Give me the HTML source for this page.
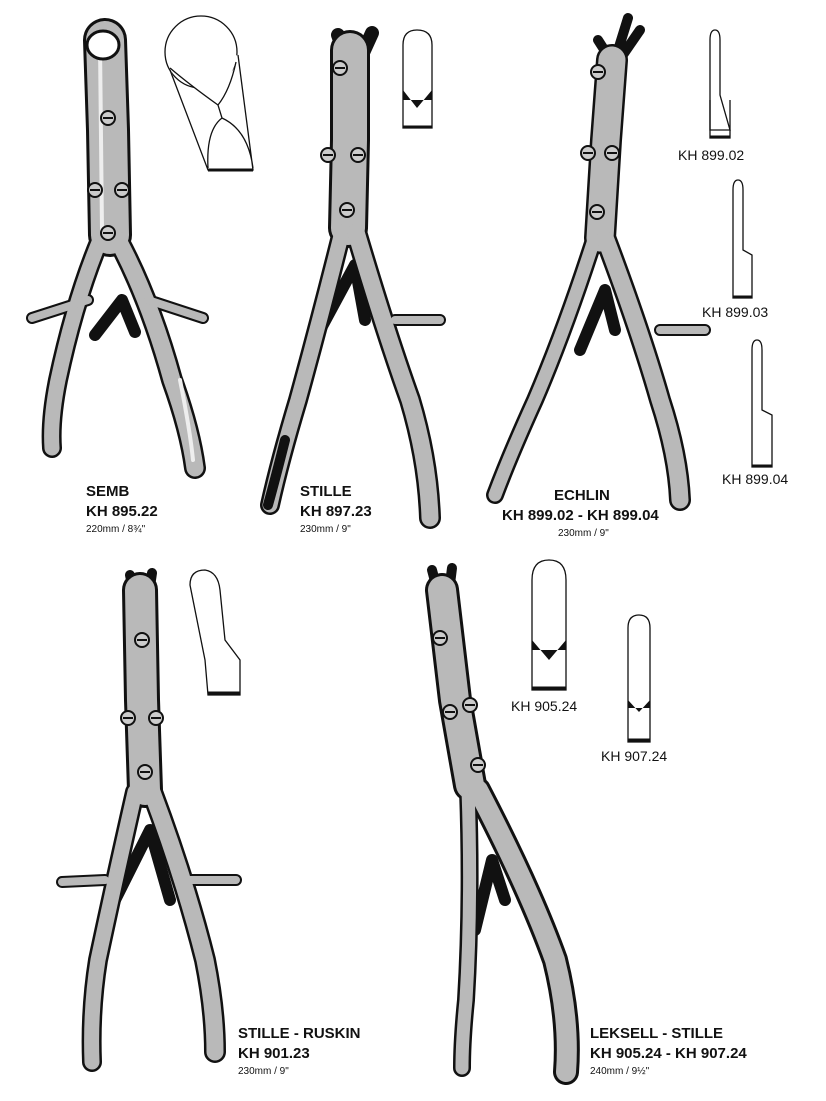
<!DOCTYPE html>
<html><head><meta charset="utf-8"><style>
html,body{margin:0;padding:0;background:#fff;width:826px;height:1101px;overflow:hidden}
svg{display:block}
text{font-family:"Liberation Sans",Arial,sans-serif;fill:#111}
.b{font-weight:bold;font-size:15px}
.s{font-size:10px}
.k{font-size:14px}
.o{fill:none;stroke:#111;stroke-linecap:round;stroke-linejoin:round}
.g{fill:none;stroke:#b9b9b9;stroke-linecap:round;stroke-linejoin:round}
.l{fill:none;stroke:#eee;stroke-linecap:round;stroke-linejoin:round}
.t{fill:#fff;stroke:#111;stroke-width:1.3}
</style></head><body>
<svg width="826" height="1101" viewBox="0 0 826 1101" xmlns="http://www.w3.org/2000/svg">
<defs>
<g id="screw"><circle r="7" fill="#ccc" stroke="#111" stroke-width="2"/><line x1="-5" y1="0" x2="5" y2="0" stroke="#111" stroke-width="2"/></g>
</defs>

<!-- SEMB -->
<g>
<path class="o" stroke-width="44" d="M105 40 L108 130 L110 235"/>
<path class="o" stroke-width="20" d="M100 240 Q75 300 58 380 Q50 420 52 448"/>
<path class="o" stroke-width="22" d="M118 240 Q150 300 172 380 Q190 430 195 468"/>
<path class="o" stroke-width="12" d="M88 300 L32 318 M148 300 L203 318 M95 335 L122 300 L135 332"/>
<path class="g" stroke-width="38" d="M105 40 L108 130 L110 235"/>
<path class="g" stroke-width="15" d="M100 240 Q75 300 58 380 Q50 420 52 448"/>
<path class="g" stroke-width="17" d="M118 240 Q150 300 172 380 Q190 430 195 468"/>
<path class="g" stroke-width="8" d="M88 300 L32 318 M148 300 L203 318"/>
<path class="l" stroke-width="4" d="M100 45 L102 230 M180 380 Q190 430 193 460"/>
<ellipse cx="103" cy="45" rx="16" ry="14" fill="#fff" stroke="#111" stroke-width="3"/>
<use href="#screw" x="108" y="118"/><use href="#screw" x="95" y="190"/><use href="#screw" x="122" y="190"/><use href="#screw" x="108" y="233"/>
</g>
<circle cx="201" cy="52" r="36" class="t" fill="none"/>
<path class="t" fill="none" d="M170 70 L208 170 L253 170 L238 55 M170 68 Q190 85 218 105 L222 118 Q206 130 208 168 M236 62 Q230 90 218 105 M222 118 Q248 130 253 168"/>
<line x1="208" y1="170" x2="253" y2="170" stroke="#111" stroke-width="3"/>

<!-- STILLE -->
<g>
<path class="o" stroke-width="40" d="M350 50 L350 140 L348 228"/>
<path class="o" stroke-width="14" d="M338 35 L345 55 M372 33 L362 55"/>
<path class="o" stroke-width="20" d="M342 232 Q320 320 298 400 Q280 460 270 505"/>
<path class="o" stroke-width="22" d="M356 232 Q385 330 410 400 Q428 460 430 518"/>
<path class="o" stroke-width="12" d="M395 320 L440 320 M320 330 L355 265 L365 320"/>
<path class="g" stroke-width="34" d="M350 50 L350 140 L348 228"/>
<path class="g" stroke-width="15" d="M342 232 Q320 320 298 400 Q280 460 270 505"/>
<path class="g" stroke-width="17" d="M356 232 Q385 330 410 400 Q428 460 430 518"/>
<path class="g" stroke-width="8" d="M395 320 L440 320"/>
<path class="o" stroke-width="10" d="M285 440 Q275 480 268 505"/>
<use href="#screw" x="340" y="68"/><use href="#screw" x="328" y="155"/><use href="#screw" x="358" y="155"/><use href="#screw" x="347" y="210"/>
</g>
<path class="t" d="M403 45 Q403 30 417 30 Q432 30 432 45 L432 128 L403 128 Z"/>
<path d="M403 90 L417 108 L432 90 L432 100 L403 100 Z" fill="#111"/>
<line x1="403" y1="127" x2="432" y2="127" stroke="#111" stroke-width="3"/>

<!-- ECHLIN -->
<g>
<path class="o" stroke-width="32" d="M612 60 L606 140 L600 238"/>
<path class="o" stroke-width="10" d="M598 40 L612 62 M628 18 L615 60 M640 30 L618 62"/>
<path class="o" stroke-width="18" d="M594 240 Q565 330 535 400 Q510 455 495 495"/>
<path class="o" stroke-width="22" d="M606 240 Q640 330 660 400 Q678 455 680 500"/>
<path class="o" stroke-width="12" d="M660 330 L705 330 M580 350 L605 290 L615 330"/>
<path class="g" stroke-width="27" d="M612 60 L606 140 L600 238"/>
<path class="g" stroke-width="13" d="M594 240 Q565 330 535 400 Q510 455 495 495"/>
<path class="g" stroke-width="17" d="M606 240 Q640 330 660 400 Q678 455 680 500"/>
<path class="g" stroke-width="8" d="M660 330 L705 330"/>
<use href="#screw" x="598" y="72"/><use href="#screw" x="588" y="153"/><use href="#screw" x="612" y="153"/><use href="#screw" x="597" y="212"/>
</g>
<g class="t">
<path d="M710 40 Q710 30 715 30 Q720 30 720 40 L720 95 L730 130 L710 130 Z"/>
<path d="M710 100 L710 138 L730 138 L730 100" fill="none"/>
<path d="M733 190 Q733 180 738 180 Q743 180 743 190 L743 250 L752 255 L752 298 L733 298 Z"/>
<path d="M752 350 Q752 340 757 340 Q762 340 762 350 L762 410 L772 415 L772 467 L752 467 Z"/>
</g>
<line x1="710" y1="137" x2="730" y2="137" stroke="#111" stroke-width="3"/>
<line x1="733" y1="297" x2="752" y2="297" stroke="#111" stroke-width="3"/>
<line x1="752" y1="466" x2="772" y2="466" stroke="#111" stroke-width="3"/>
<text class="k" x="678" y="160">KH 899.02</text>
<text class="k" x="702" y="317">KH 899.03</text>
<text class="k" x="722" y="484">KH 899.04</text>

<!-- STILLE-RUSKIN -->
<g>
<path class="o" stroke-width="36" d="M140 590 L142 700 L145 790"/>
<path class="o" stroke-width="10" d="M130 575 L135 600 M152 573 L148 600"/>
<path class="o" stroke-width="20" d="M135 792 Q115 880 98 960 Q90 1010 92 1062"/>
<path class="o" stroke-width="22" d="M152 792 Q185 880 205 960 Q215 1010 215 1052"/>
<path class="o" stroke-width="12" d="M105 880 L62 882 M190 880 L236 880 M115 900 L150 830 L170 900"/>
<path class="g" stroke-width="30" d="M140 590 L142 700 L145 790"/>
<path class="g" stroke-width="15" d="M135 792 Q115 880 98 960 Q90 1010 92 1062"/>
<path class="g" stroke-width="17" d="M152 792 Q185 880 205 960 Q215 1010 215 1052"/>
<path class="g" stroke-width="8" d="M105 880 L62 882 M190 880 L236 880"/>
<use href="#screw" x="142" y="640"/><use href="#screw" x="128" y="718"/><use href="#screw" x="156" y="718"/><use href="#screw" x="145" y="772"/>
</g>
<path class="t" d="M190 585 Q190 570 205 570 Q218 572 220 590 L225 640 L240 660 L240 695 L208 695 L205 660 Z"/>
<line x1="208" y1="693" x2="240" y2="693" stroke="#111" stroke-width="3"/>

<!-- LEKSELL -->
<g>
<path class="o" stroke-width="34" d="M442 590 L455 700 L470 785"/>
<path class="o" stroke-width="10" d="M432 570 L440 600 M452 568 L448 600"/>
<path class="o" stroke-width="18" d="M468 790 Q472 900 466 1000 Q462 1040 462 1068"/>
<path class="o" stroke-width="26" d="M478 790 Q530 890 555 960 Q570 1020 566 1072"/>
<path class="o" stroke-width="12" d="M475 930 L492 860 L505 900"/>
<path class="g" stroke-width="28" d="M442 590 L455 700 L470 785"/>
<path class="g" stroke-width="13" d="M468 790 Q472 900 466 1000 Q462 1040 462 1068"/>
<path class="g" stroke-width="20" d="M478 790 Q530 890 555 960 Q570 1020 566 1072"/>
<use href="#screw" x="440" y="638"/><use href="#screw" x="450" y="712"/><use href="#screw" x="470" y="705"/><use href="#screw" x="478" y="765"/>
</g>
<g class="t">
<path d="M532 580 Q532 560 549 560 Q566 560 566 580 L566 690 L532 690 Z"/>
<path d="M628 628 Q628 615 639 615 Q650 615 650 628 L650 742 L628 742 Z"/>
</g>
<path d="M532 640 L549 660 L566 640 L566 650 L532 650 Z M628 700 L639 712 L650 700 L650 708 L628 708 Z" fill="#111"/>
<line x1="532" y1="688" x2="566" y2="688" stroke="#111" stroke-width="3"/>
<line x1="628" y1="740" x2="650" y2="740" stroke="#111" stroke-width="3"/>
<text class="k" x="511" y="711">KH 905.24</text>
<text class="k" x="601" y="761">KH 907.24</text>

<!-- labels -->
<text class="b" x="86" y="496">SEMB</text>
<text class="b" x="86" y="516">KH 895.22</text>
<text class="s" x="86" y="532">220mm / 8¾"</text>
<text class="b" x="300" y="496">STILLE</text>
<text class="b" x="300" y="516">KH 897.23</text>
<text class="s" x="300" y="532">230mm / 9"</text>
<text class="b" x="554" y="500">ECHLIN</text>
<text class="b" x="502" y="520">KH 899.02 - KH 899.04</text>
<text class="s" x="558" y="536">230mm / 9"</text>
<text class="b" x="238" y="1038">STILLE - RUSKIN</text>
<text class="b" x="238" y="1058">KH 901.23</text>
<text class="s" x="238" y="1074">230mm / 9"</text>
<text class="b" x="590" y="1038">LEKSELL - STILLE</text>
<text class="b" x="590" y="1058">KH 905.24 - KH 907.24</text>
<text class="s" x="590" y="1074">240mm / 9½"</text>
</svg>
</body></html>
